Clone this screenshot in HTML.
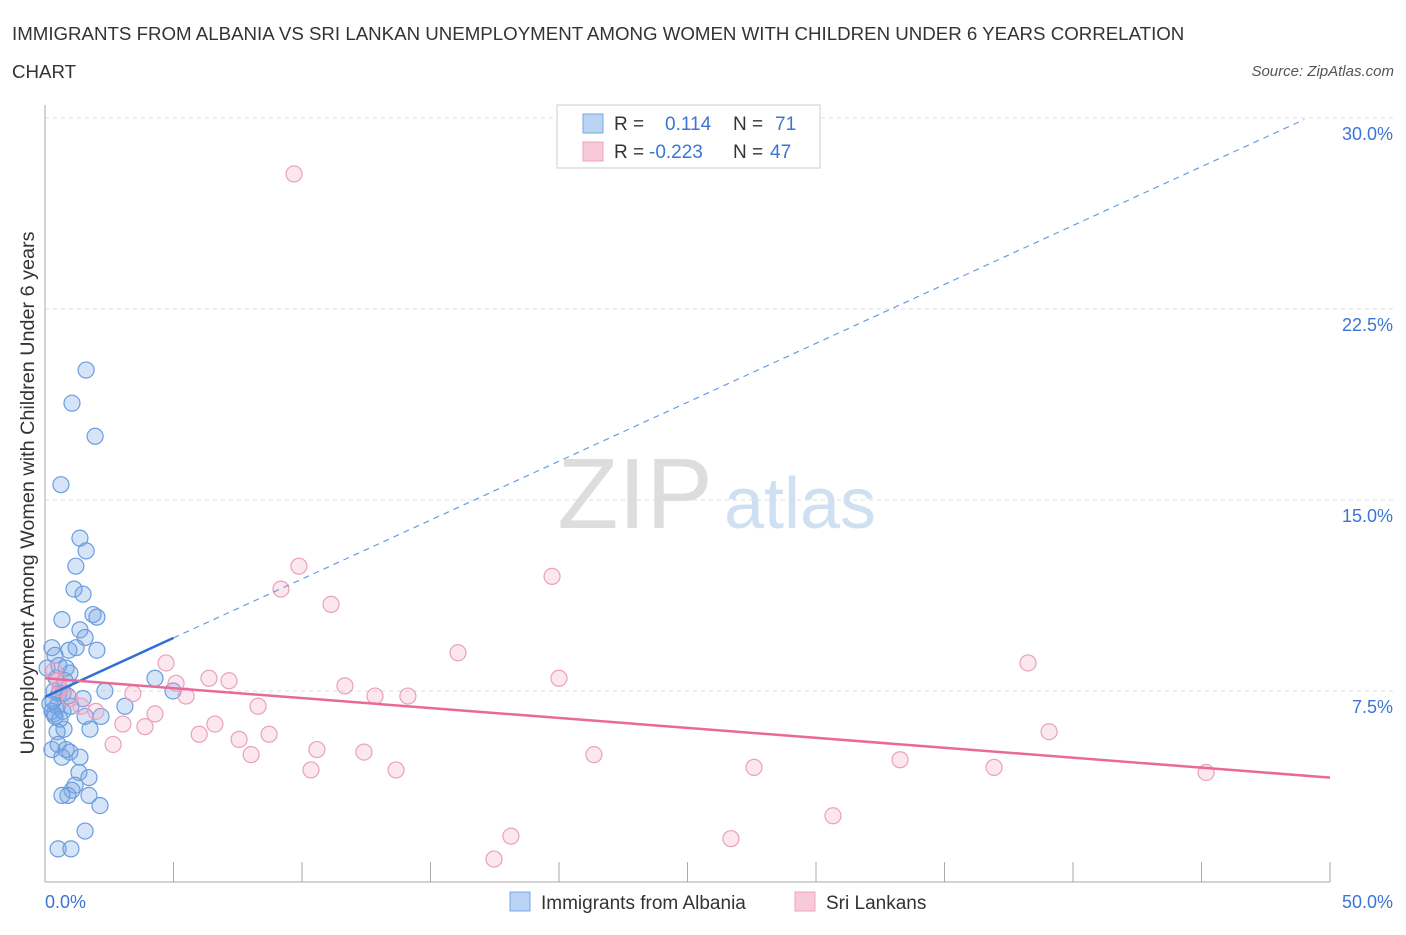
<!DOCTYPE html>
<html><head><meta charset="utf-8"><style>
body{margin:0;background:#fff;font-family:"Liberation Sans",sans-serif;}
svg text{font-family:"Liberation Sans",sans-serif;}
</style></head><body>
<svg id="chart" width="1406" height="930">
<text x="12" y="40" font-size="18.7" fill="#333">IMMIGRANTS FROM ALBANIA VS SRI LANKAN UNEMPLOYMENT AMONG WOMEN WITH CHILDREN UNDER 6 YEARS CORRELATION</text>
<text x="12" y="78" font-size="18.7" fill="#333">CHART</text>
<text x="1394" y="76" font-size="15" fill="#555" font-style="italic" text-anchor="end">Source: ZipAtlas.com</text>
<text x="635" y="528" font-size="100" fill="#ddd" font-family="Liberation Serif" text-anchor="middle">ZIP</text>
<text x="800" y="528" font-size="72" fill="#cfe0f3" text-anchor="middle">atlas</text>
<g id="grid"></g>
<g id="marks"></g>
<text transform="translate(34,493) rotate(-90)" font-size="19.8" fill="#333" text-anchor="middle">Unemployment Among Women with Children Under 6 years</text>
<text x="45" y="908" font-size="18" fill="#3b75d4">0.0%</text>
<text x="1393" y="908" font-size="18" fill="#3b75d4" text-anchor="end">50.0%</text>
<g>
<rect x="557" y="105" width="263" height="63" fill="#fff" stroke="#ccc"/>
<rect x="583" y="114" width="20" height="19" fill="#b8d3f3" stroke="#7aa7e3"/>
<rect x="583" y="142" width="20" height="19" fill="#f8c9d9" stroke="#eca5bd"/>
<text x="614" y="130" font-size="19" fill="#333">R =</text>
<text x="665" y="130" font-size="19" fill="#3b75d4">0.114</text>
<text x="733" y="130" font-size="19" fill="#333">N =</text>
<text x="775" y="130" font-size="19" fill="#3b75d4">71</text>
<text x="614" y="158" font-size="19" fill="#333">R =</text>
<text x="649" y="158" font-size="19" fill="#3b75d4">-0.223</text>
<text x="733" y="158" font-size="19" fill="#333">N =</text>
<text x="770" y="158" font-size="19" fill="#3b75d4">47</text>
</g>
<g>
<rect x="510" y="892" width="20" height="19" fill="#b8d3f3" stroke="#7aa7e3"/>
<text x="541" y="909" font-size="19" fill="#333">Immigrants from Albania</text>
<rect x="795" y="892" width="20" height="19" fill="#f8c9d9" stroke="#eca5bd"/>
<text x="826" y="909" font-size="19" fill="#333">Sri Lankans</text>
</g>
</svg>
<script>
const yTicks=[7.5,15,22.5,30];
const yTickLabels=["7.5%","15.0%","22.5%","30.0%"];
const xTicks=[5,10,15,20,25,30,35,40,45,50];
const albaniaX=[1.6,1.05,1.95,0.62,1.36,1.6,1.2,1.13,1.48,1.87,2.02,0.66,1.36,1.56,0.93,2.02,1.21,0.27,0.39,0.82,0.97,4.28,0.43,0.35,0.54,0.7,2.33,4.98,0.89,1.48,0.19,0.47,3.11,1.01,0.27,0.7,0.35,2.18,1.56,0.39,1.75,0.74,0.47,0.27,0.51,0.82,0.97,1.36,0.66,1.32,1.71,1.17,1.05,0.89,0.66,1.71,2.14,1.56,0.51,1.01,0.08,0.54,0.78,0.31,0.58];
const albaniaY=[20.1,18.8,17.5,15.6,13.5,13.0,12.4,11.5,11.3,10.5,10.4,10.3,9.9,9.6,9.1,9.1,9.2,9.2,8.9,8.4,8.2,8.0,8.0,7.5,7.4,7.4,7.5,7.5,7.3,7.2,7.0,6.9,6.9,6.9,6.7,6.7,6.6,6.5,6.5,6.5,6.0,6.0,5.9,5.2,5.4,5.2,5.1,4.9,4.9,4.3,4.1,3.8,3.6,3.4,3.4,3.4,3.0,2.0,1.3,1.3,8.4,8.5,7.9,7.1,6.4];
const sriX=[9.69,9.88,19.73,9.18,11.13,16.07,4.71,38.25,20.0,6.38,7.16,5.1,11.67,3.42,5.49,12.84,14.12,0.51,0.58,1.4,8.29,4.28,1.98,6.61,3.03,3.89,6.0,7.55,8.72,39.07,2.65,10.58,12.41,8.02,21.36,33.27,27.59,36.93,10.35,13.66,45.18,30.66,18.13,26.69,17.47,0.35,0.97];
const sriY=[27.8,12.4,12.0,11.5,10.9,9.0,8.6,8.6,8.0,8.0,7.9,7.8,7.7,7.4,7.3,7.3,7.3,7.9,7.6,6.9,6.9,6.6,6.7,6.2,6.2,6.1,5.8,5.6,5.8,5.9,5.4,5.2,5.1,5.0,5.0,4.8,4.5,4.5,4.4,4.4,4.3,2.6,1.8,1.7,0.9,8.3,7.2];
const albaniaTrend=[7.27,30.4];
const sriTrend=[8.0,4.1];
const NS="http://www.w3.org/2000/svg";
const X=v=>45+v*25.7, Y=v=>882-v*25.47;
const grid=document.getElementById('grid'), marks=document.getElementById('marks');
function mk(tag,a,p){const e=document.createElementNS(NS,tag);for(const k in a)e.setAttribute(k,a[k]);p.appendChild(e);return e;}
yTicks.forEach((t,i)=>{
 const l=mk('line',{x1:45,x2:1393,y1:Y(t),y2:Y(t),stroke:'#ddd','stroke-dasharray':'4,4'},grid);
 
 
 const tx=mk('text',{x:1393,y:Y(t)+22,'font-size':18,fill:'#3b75d4','text-anchor':'end'},grid);
 tx.textContent=yTickLabels[i];
 
 
});
const ax=mk('line',{x1:45,x2:1330,y1:882,y2:882,stroke:'#aaa'},grid);


const ay=mk('line',{x1:45,x2:45,y1:105,y2:882,stroke:'#aaa'},grid);


xTicks.forEach(t=>{const l=mk('line',{x1:X(t),x2:X(t),y1:862,y2:882,stroke:'#aaa'},grid);
 
 });
albaniaX.forEach((v,i)=>{const c=mk('circle',{cx:X(v),cy:Y(albaniaY[i]),r:8,fill:'rgba(120,165,230,0.3)',stroke:'#6a9de0','stroke-width':1.2},marks);
 
 });
sriX.forEach((v,i)=>{const c=mk('circle',{cx:X(v),cy:Y(sriY[i]),r:8,fill:'rgba(245,160,190,0.25)',stroke:'#eba0bb','stroke-width':1.2},marks);
 
 });
const by=x=>albaniaTrend[0]+(albaniaTrend[1]-albaniaTrend[0])*x/50;
const t1=mk('line',{x1:X(0),y1:Y(by(0)),x2:X(5),y2:Y(by(5)),stroke:'#2e6fd6','stroke-width':2.5},marks);


const t2=mk('line',{x1:X(5),y1:Y(by(5)),x2:X(49),y2:Y(by(49)),stroke:'#6a9de0','stroke-width':1.2,'stroke-dasharray':'6,5'},marks);


const t3=mk('line',{x1:X(0),y1:Y(sriTrend[0]),x2:X(50),y2:Y(sriTrend[1]),stroke:'#e8699a','stroke-width':2.5},marks);


</script>
</body></html>
